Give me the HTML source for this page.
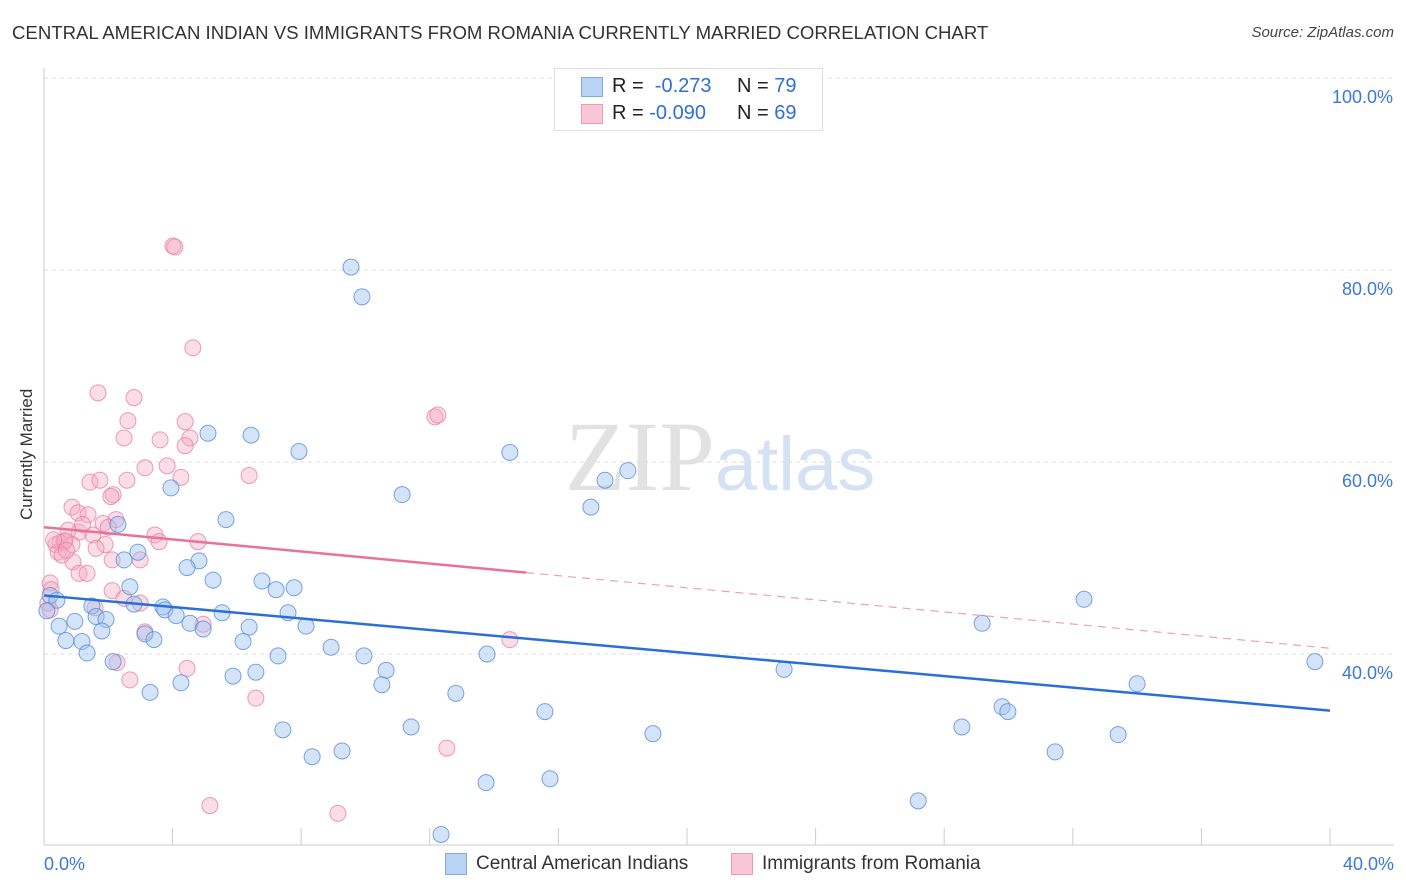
<!DOCTYPE html>
<html><head><meta charset="utf-8"><style>
body{margin:0;background:#fff;font-family:"Liberation Sans",sans-serif;}
#wrap{position:relative;width:1406px;height:892px;overflow:hidden;}
.t{position:absolute;white-space:nowrap;}
</style></head><body>
<div id="wrap">
<div class="t" style="left:12px;top:22px;font-size:18.6px;color:#333;">CENTRAL AMERICAN INDIAN VS IMMIGRANTS FROM ROMANIA CURRENTLY MARRIED CORRELATION CHART</div>
<div class="t" style="right:12px;top:24px;font-size:15px;color:#444;font-style:italic;">Source: ZipAtlas.com</div>
<div class="t" style="left:-38px;top:445px;font-size:17px;color:#333;transform:rotate(-90deg);width:130px;text-align:center;">Currently Married</div>
<svg id="svg" width="1406" height="892" style="position:absolute;left:0;top:0"></svg>
<div style="position:absolute;left:554px;top:68px;width:267px;height:61px;border:1px solid #ddd;background:#fff;font-size:20px;color:#222;">
 <div style="position:absolute;left:26px;top:8px;width:20px;height:18px;background:#b9d3f5;border:1px solid #7fa8e6"></div>
 <div class="t" style="left:57px;top:6px">R = &nbsp;<span style="color:#2f6fd4">-0.273</span></div>
 <div class="t" style="left:182px;top:6px">N = <span style="color:#2f6fd4">79</span></div>
 <div style="position:absolute;left:26px;top:35px;width:20px;height:18px;background:#f8c6d6;border:1px solid #eb9ab5"></div>
 <div class="t" style="left:57px;top:33px">R = <span style="color:#2f6fd4">-0.090</span></div>
 <div class="t" style="left:182px;top:33px">N = <span style="color:#2f6fd4">69</span></div>
</div>
<div style="position:absolute;left:445px;top:853px;font-size:19px;color:#333;">
 <div style="position:absolute;left:0;top:0;width:20px;height:20px;background:#b9d3f5;border:1px solid #7fa8e6"></div>
 <div class="t" style="left:31px;top:0">Central American Indians</div></div>
<div style="position:absolute;left:731px;top:853px;font-size:19px;color:#333;">
 <div style="position:absolute;left:0;top:0;width:20px;height:20px;background:#f8c6d6;border:1px solid #eb9ab5"></div>
 <div class="t" style="left:31px;top:0">Immigrants from Romania</div></div>
</div>
<script>
const blueX=[9.55,9.89,5.10,6.44,7.93,14.49,18.16,17.45,11.14,3.95,17.01,5.66,2.30,2.92,2.49,4.82,4.45,5.26,2.67,6.78,7.22,7.78,0.19,0.40,2.80,3.70,3.76,1.49,4.11,5.54,7.59,1.62,1.93,0.09,0.96,0.47,4.54,4.95,6.38,8.15,3.14,3.42,1.80,0.68,1.18,6.19,8.93,1.34,9.95,13.78,29.18,32.35,2.15,7.28,6.59,10.64,5.88,4.26,3.30,10.51,12.81,23.02,39.53,34.0,15.58,29.80,29.98,28.55,7.43,11.42,18.94,33.41,9.27,8.34,31.45,13.75,15.74,27.19,12.35];
const blueY=[80.3,77.2,63.0,62.8,61.1,61.0,59.1,58.1,56.6,57.3,55.3,54.0,53.5,50.6,49.8,49.7,49.0,47.7,47.0,47.6,46.7,46.9,46.1,45.6,45.2,44.9,44.6,45.0,44.0,44.3,44.3,43.9,43.6,44.5,43.4,42.9,43.2,42.6,42.8,42.9,42.1,41.5,42.4,41.4,41.3,41.3,40.7,40.1,39.8,40.0,43.2,45.7,39.2,39.8,38.1,38.3,37.7,37.0,36.0,36.8,35.9,38.4,39.2,36.9,34.0,34.5,34.0,32.4,32.1,32.4,31.7,31.6,29.9,29.3,29.8,26.6,27.0,24.7,21.2];
const pinkX=[4.01,4.07,4.63,1.68,2.80,2.61,4.39,12.16,12.25,2.49,3.61,4.54,4.39,3.14,3.83,4.26,6.38,1.43,1.74,2.58,2.15,2.08,0.87,1.06,1.37,2.24,1.84,0.75,3.45,1.09,1.52,0.62,0.50,0.37,0.87,0.65,4.79,3.58,1.90,1.62,0.44,0.56,2.99,0.90,2.12,1.09,1.34,0.19,0.22,2.12,2.49,2.99,1.59,0.12,0.19,3.14,4.95,14.49,2.27,4.45,2.67,6.59,12.53,5.16,9.14,0.3,1.2,0.7,2.0];
const pinkY=[82.5,82.4,71.9,67.2,66.7,64.3,64.2,64.7,64.9,62.5,62.3,62.5,61.7,59.4,59.6,58.4,58.6,57.9,58.1,58.1,56.6,56.4,55.3,54.7,54.5,54.0,53.6,52.9,52.4,52.7,52.4,51.7,51.6,51.4,51.4,51.8,51.7,51.7,51.4,51.0,50.6,50.3,49.8,49.6,49.8,48.4,48.4,47.4,46.7,46.6,45.8,45.3,44.8,45.3,44.6,42.3,43.1,41.5,39.1,38.5,37.3,35.4,30.2,24.2,23.4,51.9,53.5,50.8,53.2];
const yTicks=[100,80,60,40];
const blueLine=[46.1,34.1];
const pinkLine=[53.2,40.6];
const pinkSolidEnd=15;
const NS="http://www.w3.org/2000/svg";
const svg=document.getElementById('svg');
const sx=v=>44+v*32.15, sy=v=>78+(100-v)*9.6;
function mk(tag,attrs){const e=document.createElementNS(NS,tag);for(const k in attrs)e.setAttribute(k,attrs[k]);svg.appendChild(e);return e;}
yTicks.forEach(v=>{
 const g=mk('line',{x1:44,x2:1394,y1:sy(v),y2:sy(v),stroke:'#ddd','stroke-dasharray':'4 4'});
 
 
 const t=mk('text',{x:1393,y:sy(v)+25,'text-anchor':'end','font-size':18,fill:'#3a78d8','font-family':'Liberation Sans, sans-serif'});
 t.textContent=v.toFixed(1)+'%';
 
 
});
let a=mk('line',{x1:44,x2:44,y1:68,y2:845,stroke:'#ccc'});


a=mk('line',{x1:44,x2:1394,y1:845,y2:845,stroke:'#ccc'});


for(let i=0;i<=10;i++){const tk=mk('line',{x1:sx(i*4),x2:sx(i*4),y1:828,y2:845,stroke:'#ccc'});
 
 }
[[0,'0.0%','start',44],[40,'40.0%','end',1394]].forEach(d=>{const t=mk('text',{x:d[3],y:870,'text-anchor':d[2],'font-size':18,fill:'#3a78d8','font-family':'Liberation Sans, sans-serif'});t.textContent=d[1];
 
 });
const wm=mk('text',{x:720,y:490,'text-anchor':'middle','font-size':100,fill:'#e2e2e2','font-family':'Liberation Serif, serif'});
wm.innerHTML='ZIP<tspan fill="#d4e2f4" font-family="Liberation Sans, sans-serif" font-size="76">atlas</tspan>';


pinkX.forEach((x,i)=>{const c=mk('circle',{cx:sx(x),cy:sy(pinkY[i]),r:8,fill:'rgba(245,170,195,0.4)',stroke:'rgba(232,130,165,0.8)','stroke-width':1});
 
 });
blueX.forEach((x,i)=>{const c=mk('circle',{cx:sx(x),cy:sy(blueY[i]),r:8,fill:'rgba(160,195,240,0.45)',stroke:'rgba(90,140,220,0.8)','stroke-width':1});
 
 });
const pv=x=>pinkLine[0]+(pinkLine[1]-pinkLine[0])*x/40;
let l=mk('line',{x1:sx(0),y1:sy(pinkLine[0]),x2:sx(pinkSolidEnd),y2:sy(pv(pinkSolidEnd)),stroke:'#e8739a','stroke-width':2.5});


l=mk('line',{x1:sx(pinkSolidEnd),y1:sy(pv(pinkSolidEnd)),x2:sx(40),y2:sy(pinkLine[1]),stroke:'#eca0b8','stroke-width':1.2,'stroke-dasharray':'8 6'});


l=mk('line',{x1:sx(0),y1:sy(blueLine[0]),x2:sx(40),y2:sy(blueLine[1]),stroke:'#2a6fd6','stroke-width':2.5});


</script>
</body></html>
